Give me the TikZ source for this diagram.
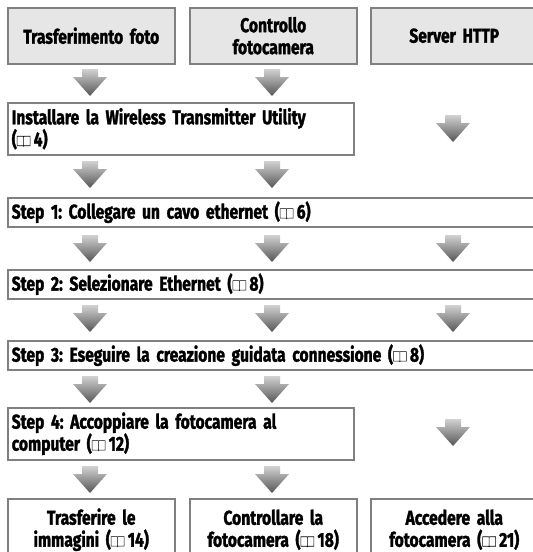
\documentclass[tikz,border=0pt]{standalone}
\usepackage{fontspec}
\newfontfamily\flowfont{Fira Sans}[FakeStretch=0.78, FakeBold=1.6]
\definecolor{framegray}{HTML}{808080}
\definecolor{headfill}{HTML}{E6E6E6}
\definecolor{arrowtop}{HTML}{D2D2D2}
\definecolor{arrowbot}{HTML}{555555}
\newcommand\bookicon{\tikz[x=1pt,y=1pt,baseline=0pt,line width=0.6pt]{\draw (0,0.5) -- (0,10) -- (6,10) -- (6.5,9.5) -- (7,10) -- (13,10) -- (13,0.5) -- (7,0.5) -- (6.5,0) -- (6,0.5) -- cycle (6.5,9.5) -- (6.5,0);}\,}
\newcommand\flowtext{\flowfont\bfseries\frenchspacing\fontsize{20}{22}\selectfont\spaceskip=2.8pt plus 1pt minus 0.5pt\relax}
\tikzset{box/.style={draw=framegray, line width=1.5pt, fill=white, anchor=north west, inner xsep=4pt, inner ysep=2pt, font=\flowtext}}
\tikzset{head/.style={box, fill=headfill, align=center, text width=159pt, minimum height=56pt}}
\tikzset{result/.style={box, align=center, text width=159pt, minimum height=62pt}}
\tikzset{halfstep/.style={box, align=left, text width=338pt, minimum height=52pt}}
\tikzset{fullstep/.style={box, align=left, text width=530pt, minimum height=29pt}}
\tikzset{flowarrow/.pic={\shade[top color=arrowtop, bottom color=arrowbot] (-8,0) -- (8,0) -- (8,8) -- (17,8) -- (0,27) -- (-17,8) -- (-8,8) -- cycle;}}

\begin{document}
\begin{tikzpicture}[x=1pt,y=-1pt]
\clip (0,0) rectangle (533,552);
\node[head] (photo) at (7,7) {Trasferimento foto};
\node[head] (control) at (189,7) {Controllo\\fotocamera};
\node[head] (http) at (370,7) {Server HTTP};
\node[halfstep] (install) at (7,102) {Installare la Wireless Transmitter Utility\\(\bookicon4)};
\node[fullstep] (cable) at (7,197) {Step 1: Collegare un cavo ethernet (\bookicon6)};
\node[fullstep] (ethernet) at (7,269) {Step 2: Selezionare Ethernet (\bookicon8)};
\node[fullstep] (wizard) at (7,340) {Step 3: Eseguire la creazione guidata connessione (\bookicon8)};
\node[halfstep] (pair) at (7,407) {Step 4: Accoppiare la fotocamera al\\computer (\bookicon12)};
\node[result] (transfer) at (7,498) {Trasferire le\\immagini (\bookicon14)};
\node[result] (remote) at (189,498) {Controllare la\\fotocamera (\bookicon18)};
\node[result] (access) at (370,498) {Accedere alla\\fotocamera (\bookicon21)};
\pic at (90,69) {flowarrow};
\pic at (272,69) {flowarrow};
\pic at (453,115) {flowarrow};
\pic at (90,161) {flowarrow};
\pic at (272,161) {flowarrow};
\pic at (90,235) {flowarrow};
\pic at (272,235) {flowarrow};
\pic at (453,235) {flowarrow};
\pic at (90,305) {flowarrow};
\pic at (272,305) {flowarrow};
\pic at (453,305) {flowarrow};
\pic at (90,376) {flowarrow};
\pic at (272,376) {flowarrow};
\pic at (453,419) {flowarrow};
\pic at (90,466) {flowarrow};
\pic at (272,466) {flowarrow};
\end{tikzpicture}
\end{document}
